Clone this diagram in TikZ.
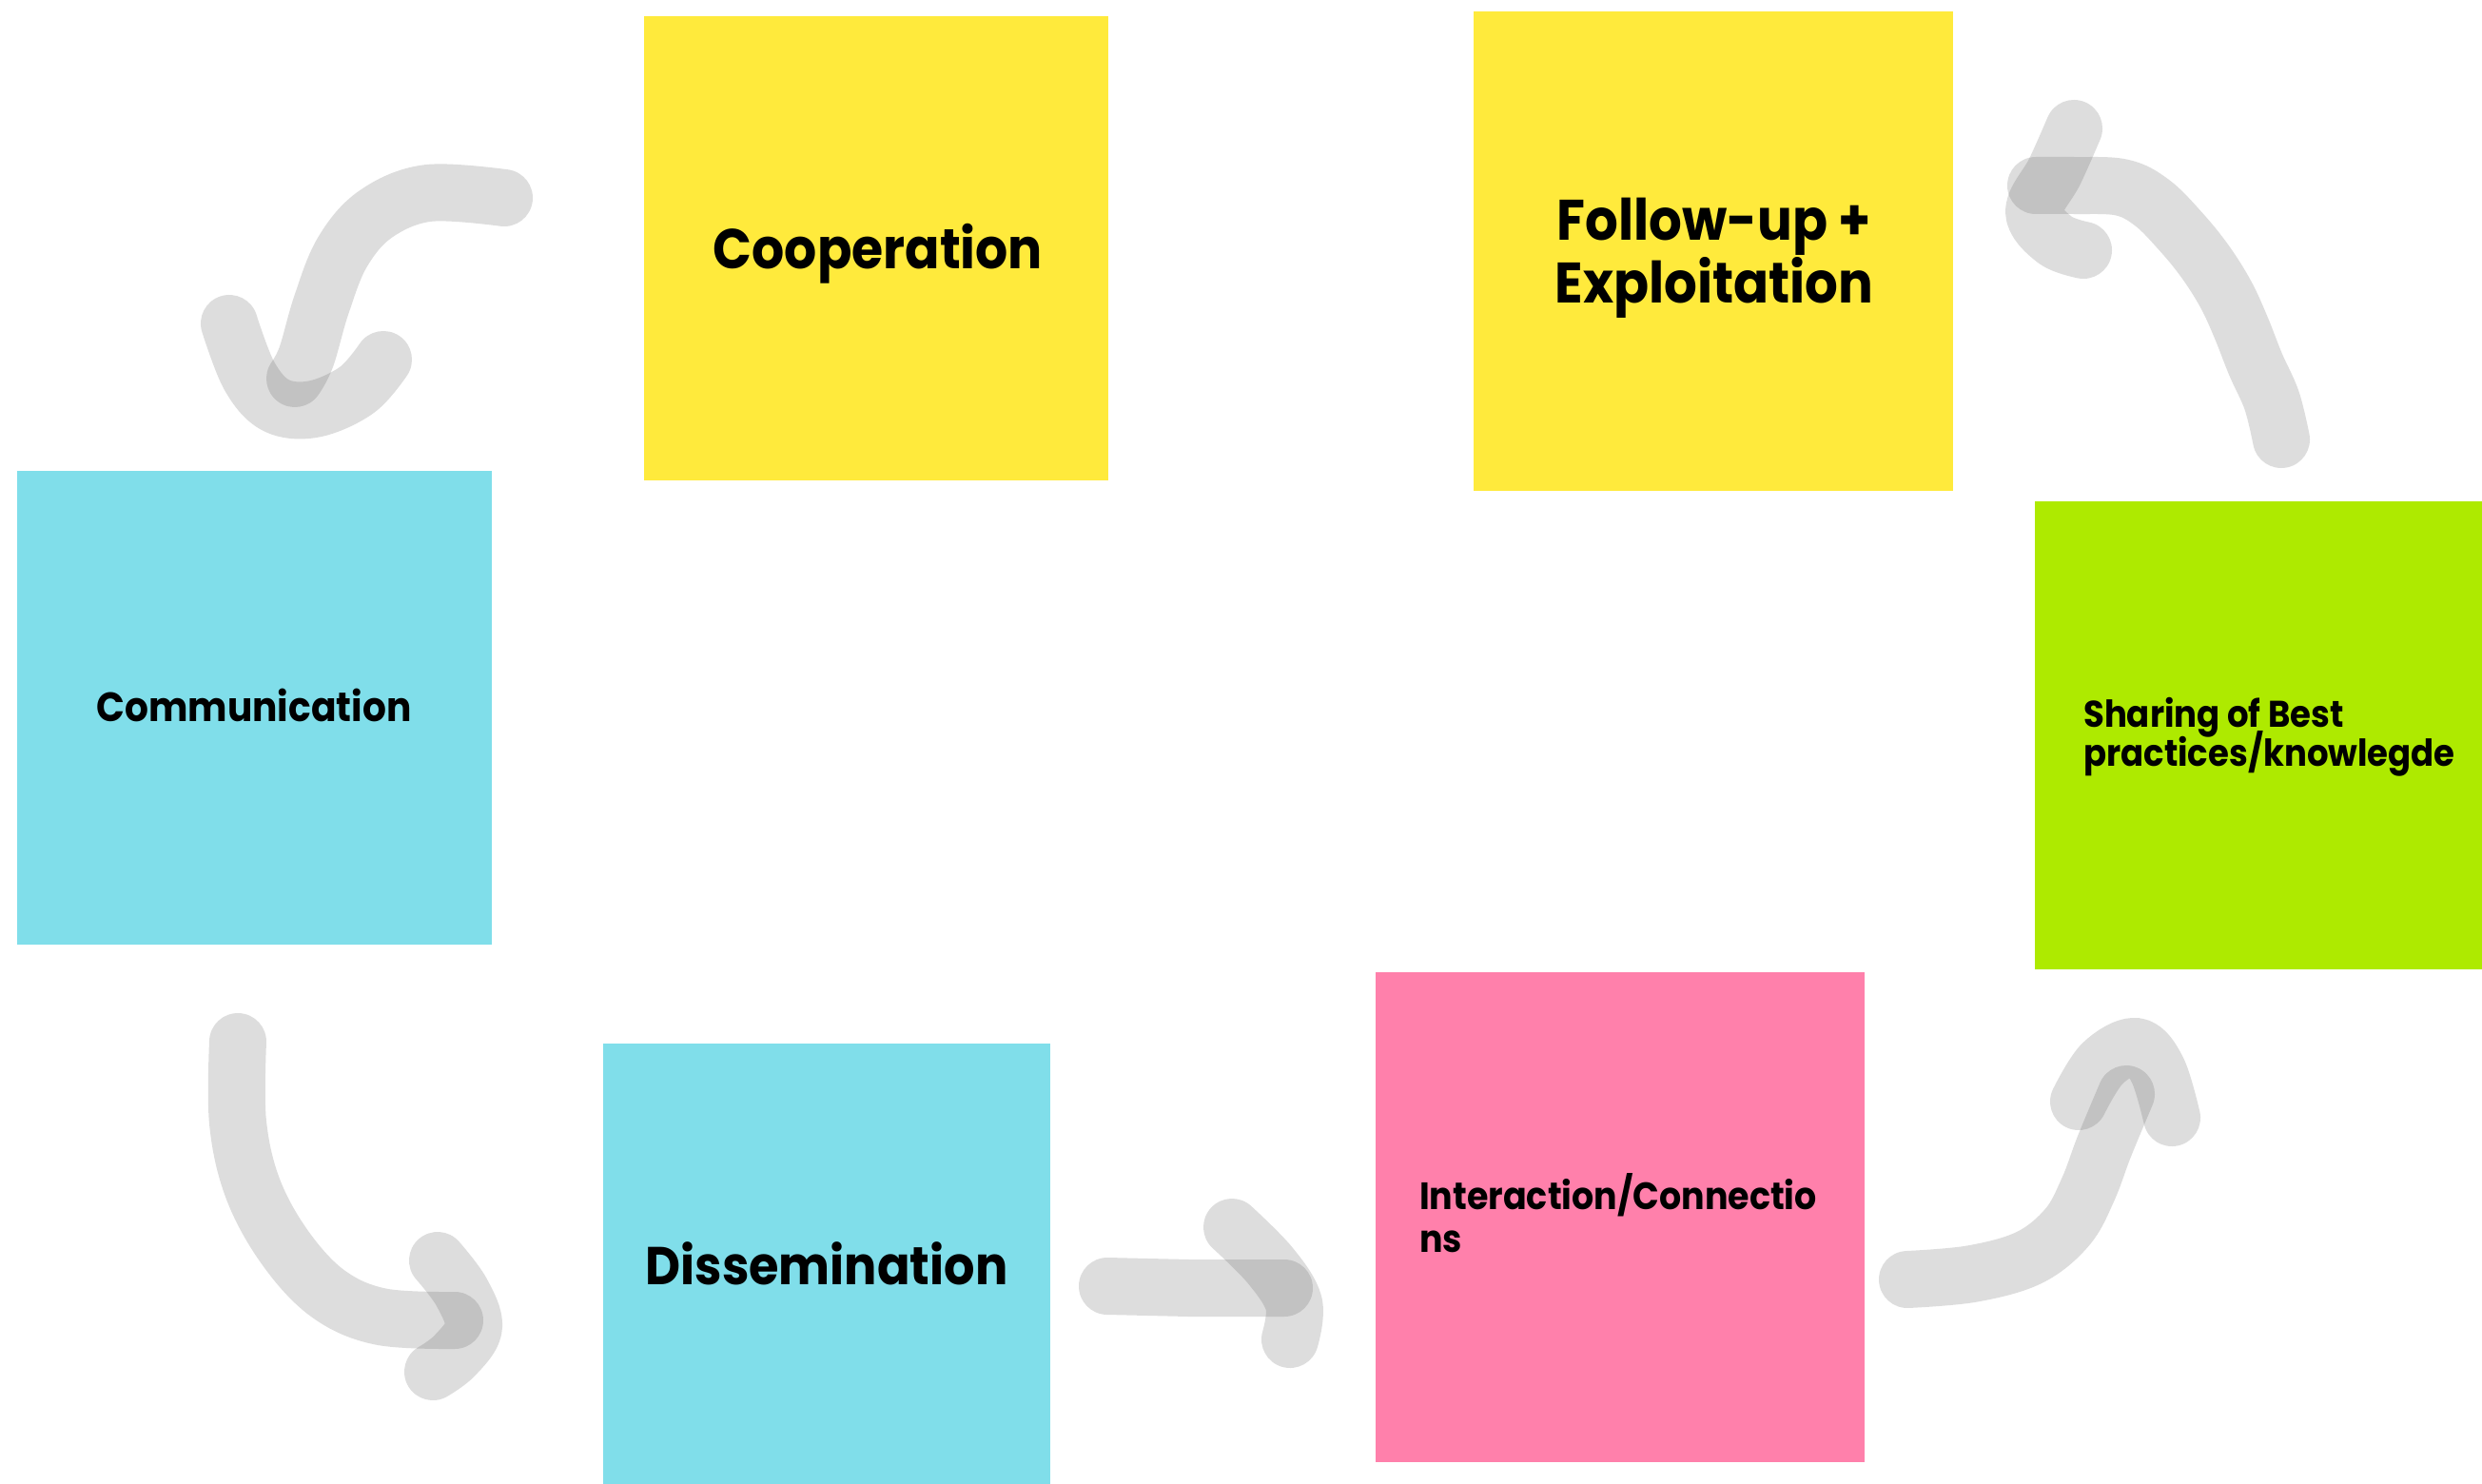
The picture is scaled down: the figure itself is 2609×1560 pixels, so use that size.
\documentclass[tikz,border=0pt]{standalone}
\usepackage{fontspec}
\setmainfont{Poppins}[FakeStretch=0.91]
\definecolor{noteyellow}{RGB}{255,234,60}
\definecolor{notecyan}{RGB}{128,222,234}
\definecolor{notelime}{RGB}{174,234,0}
\definecolor{notepink}{RGB}{255,128,171}
\definecolor{brushgray}{RGB}{72,72,72}
\newcommand{\tightlines}{\lineskiplimit=-100pt\relax}
\begin{document}
\begin{tikzpicture}[x=1pt,y=-1pt,
  note/.style={rectangle, inner sep=0pt, anchor=north west, draw=none},
  label text/.style={inner sep=0pt, text=black, font=\bfseries},
  brush/.style={draw=brushgray, draw opacity=0.18, line width=60pt, line cap=round, line join=round}]
\useasboundingbox[fill=white] (0,0) rectangle (2609,1560);

% sticky notes
\node[note, fill=noteyellow, minimum width=488pt, minimum height=488pt] (coop) at (677,17) {};
\node[note, fill=noteyellow, minimum width=504pt, minimum height=504pt] (follow) at (1549,12) {};
\node[note, fill=notecyan, minimum width=499pt, minimum height=498pt] (comm) at (18,495) {};
\node[note, fill=notelime, minimum width=470pt, minimum height=492pt] (share) at (2139,527) {};
\node[note, fill=notecyan, minimum width=470pt, minimum height=463pt] (diss) at (634,1097) {};
\node[note, fill=notepink, minimum width=514pt, minimum height=515pt] (inter) at (1446,1022) {};

% texts (multi-line nodes: base = baseline of last line)
\node[label text, anchor=base, font=\fontsize{59}{65}\selectfont\bfseries] (tcoop) at (923,282) {Cooperation};
\node[label text, anchor=base, align=center, font=\fontsize{60}{66}\selectfont\bfseries\tightlines] (tfollow) at (1802,318) {Follow-up +\\Exploitation};
\node[label text, anchor=base, font=\fontsize{43}{48}\selectfont\bfseries] (tcomm) at (267,758) {Communication};
\node[label text, anchor=base west, align=left, font=\fontsize{39}{41}\selectfont\bfseries\tightlines] (tshare) at (2190,805) {Sharing of Best\\practices/knowlegde};
\node[label text, anchor=base, font=\fontsize{56}{62}\selectfont\bfseries] (tdiss) at (869,1350) {Dissemination};
\node[label text, anchor=base west, align=left, font=\fontsize{40}{45}\selectfont\bfseries\tightlines] (tinter) at (1492,1316) {Interaction/Connectio\\ns};

% brush arrows
% Cooperation -> Communication
\coordinate (a1s) at (530,208);
\coordinate (a1e) at (310,398);
\draw[brush] plot[smooth, tension=0.6] coordinates {(a1s) (450,203) (395,225) (360,265) (338,320) (322,375) (a1e)};
\draw[brush] plot[smooth, tension=0.6] coordinates {(241,340) (262,395) (290,426) (330,430) (375,410) (403,378)};
% Communication -> Dissemination
\coordinate (a2s) at (250,1095);
\coordinate (a2e) at (478,1388);
\draw[brush] plot[smooth, tension=0.6] coordinates {(a2s) (250,1180) (266,1250) (300,1312) (345,1360) (400,1384) (a2e)};
\draw[brush] plot[smooth, tension=0.6] coordinates {(460,1325) (485,1358) (498,1395) (478,1425) (455,1442)};
% Dissemination -> Interaction
\coordinate (a3s) at (1164,1352);
\coordinate (a3e) at (1350,1354);
\draw[brush] (a3s) -- (1250,1354) -- (a3e);
\draw[brush] plot[smooth, tension=0.6] coordinates {(1295,1290) (1335,1330) (1360,1370) (1356,1408)};
% Interaction -> Sharing
\coordinate (a4s) at (2005,1345);
\coordinate (a4e) at (2235,1150);
\draw[brush] plot[smooth, tension=0.6] coordinates {(a4s) (2073,1339) (2133,1322) (2173,1290) (2195,1250) (2212,1205) (a4e)};
\draw[brush] plot[smooth, tension=0.6] coordinates {(2185,1158) (2210,1118) (2245,1100) (2268,1125) (2283,1175)};
% Sharing -> Follow-up
\coordinate (a5s) at (2398,462);
\coordinate (a5e) at (2140,195);
\draw[brush] plot[smooth, tension=0.6] coordinates {(a5s) (2388,421) (2371,383) (2356,345) (2340,310) (2318,275) (2292,243) (2262,213) (2230,197) (2180,195) (a5e)};
\draw[brush] plot[smooth, tension=0.6] coordinates {(2180,135) (2160,180) (2138,222) (2160,252) (2190,263)};
\end{tikzpicture}
\end{document}
